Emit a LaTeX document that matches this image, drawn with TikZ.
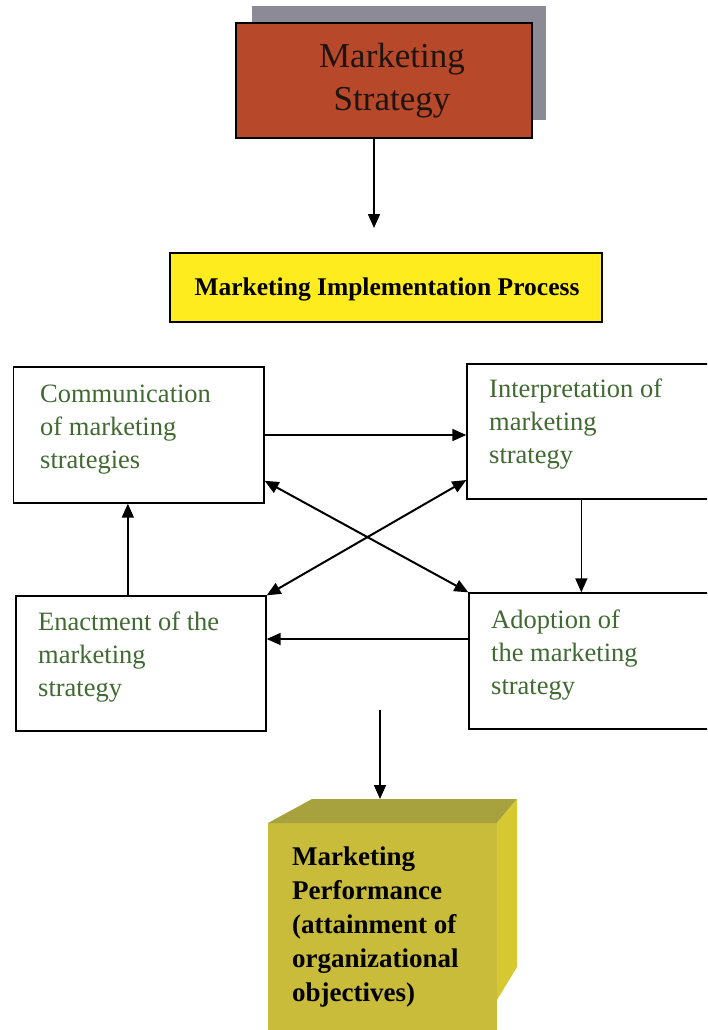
\documentclass[tikz,border=0pt]{standalone}
\usepackage{fontspec}
\setmainfont{Liberation Serif}
\newfontfamily\tnr{Liberation Serif}
\usetikzlibrary{arrows.meta,calc}
\definecolor{redfill}{RGB}{183,72,42}
\definecolor{shadowgray}{RGB}{140,138,150}
\definecolor{yellowfill}{RGB}{255,236,30}
\definecolor{greentext}{RGB}{65,105,50}
\definecolor{cubefront}{RGB}{200,188,58}
\definecolor{cubetop}{RGB}{168,162,62}
\definecolor{cubeside}{RGB}{214,200,48}
\definecolor{darktext}{RGB}{30,20,16}
\tikzset{
  stagebox/.style={draw=black,line width=1.3pt,rectangle,inner sep=0pt,fill=white},
  greenlabel/.style={anchor=north west,inner sep=0pt,align=left,text=greentext,
    font=\tnr\fontsize{26.5}{33}\selectfont},
  arr/.style={line width=1.6pt,-{Triangle[length=14pt,width=12pt]}},
  darr/.style={line width=2pt,{Triangle[length=14pt,width=12pt]}-{Triangle[length=14pt,width=12pt]}},
}
\begin{document}
\begin{tikzpicture}[x=1pt,y=-1pt]
\clip (0,0) rectangle (707,1030);
\fill[white] (0,0) rectangle (707,1030);
% Marketing Strategy
\fill[shadowgray] (252,6) rectangle (546,120);
\node[draw=black,line width=1.3pt,fill=redfill,minimum width=296pt,minimum height=115pt,inner sep=0pt] (strategy) at (384,80.5) {};
\node[anchor=north,inner sep=0pt,align=center,text=darktext,font=\tnr\fontsize{35}{43}\selectfont] (strategytext) at (392,36.9) {\strut Marketing\\Strategy};
\coordinate (a1) at (374,228);
\draw[arr] ([xshift=-10pt]strategy.south) -- (a1);
% Implementation process
\node[draw=black,line width=1.3pt,fill=yellowfill,minimum width=432pt,minimum height=69pt,inner sep=0pt] (process) at (386,287.5) {};
\node[anchor=base,inner sep=0pt,font=\tnr\fontsize{25.5}{30}\selectfont\bfseries] (processtext) at (387,295) {Marketing Implementation Process};
% Four stages
\node[stagebox,minimum width=250.5pt,minimum height=136pt] (comm) at (138.75,435) {};
\node[stagebox,minimum width=283pt,minimum height=135pt] (interp) at (608.5,431.5) {};
\node[stagebox,minimum width=250pt,minimum height=135pt] (enact) at (141,663.5) {};
\node[stagebox,minimum width=281pt,minimum height=136pt] (adopt) at (609.5,661) {};
\node[greenlabel] (commtext) at (40,378.9) {\strut Communication\\of marketing\\strategies};
\node[greenlabel] (interptext) at (489,373.9) {\strut Interpretation of\\marketing\\strategy};
\node[greenlabel] (enacttext) at (38,606.9) {\strut Enactment of the\\marketing\\strategy};
\node[greenlabel] (adopttext) at (491,604.9) {\strut Adoption of\\the marketing\\strategy};
% connectors
\draw[arr] (comm.east) -- (interp.west |- comm.east);
\draw[arr] ([xshift=115pt]interp.south west) -- ([xshift=113pt]adopt.north west);
\draw[arr] ([yshift=22pt]adopt.west) -- ([yshift=24.5pt]enact.east);
\draw[arr] ([xshift=112.5pt]enact.north west) -- ([xshift=115pt]comm.south west);
\draw[darr] (comm.-20) -- (adopt.north west);
\draw[darr] ([yshift=-48.5pt]interp.west) -- (enact.north east);
% performance cube
\fill[cubefront] (268,823) -- (497,823) -- (497,1045) -- (268,1045) -- cycle;
\fill[cubetop] (268,823) -- (312,799) -- (517,799) -- (497,823) -- cycle;
\fill[cubeside] (497,823) -- (517,799) -- (517,967) -- (497,1000) -- cycle;
\coordinate (b0) at (380,710);
\coordinate (cubetopmid) at (380,799);
\draw[arr] (b0) -- (cubetopmid);
\node[anchor=north west,inner sep=0pt,align=left,text=black,font=\tnr\fontsize{27}{34}\selectfont\bfseries] (perf) at (292,841.2) {\strut Marketing\\Performance\\(attainment of\\organizational\\objectives)};
\end{tikzpicture}
\end{document}
